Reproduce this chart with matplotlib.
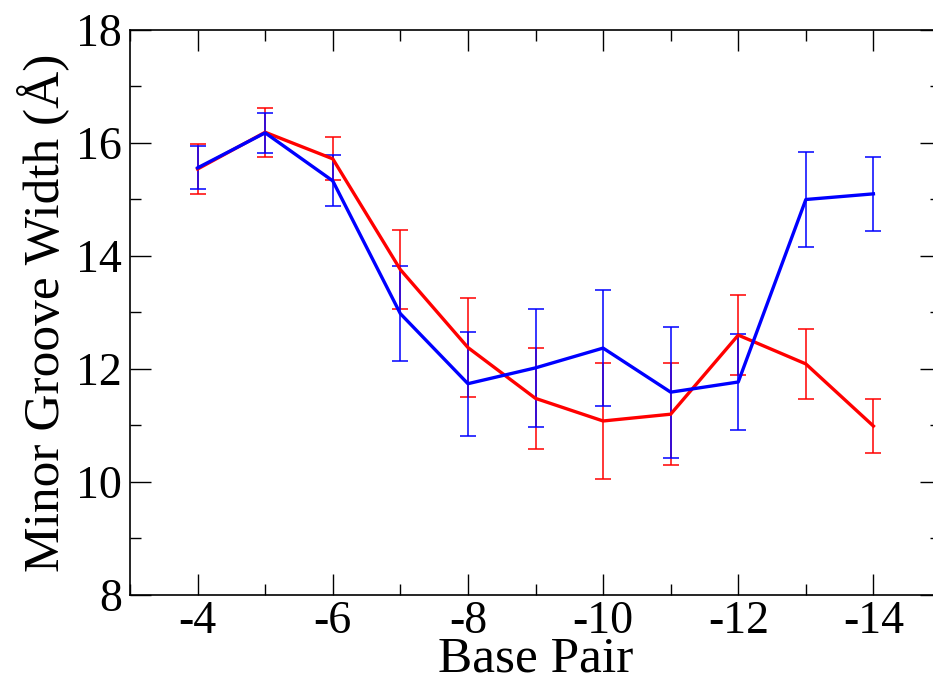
import matplotlib

matplotlib.use("Agg")
import matplotlib.pyplot as plt  # noqa: E402
from matplotlib.ticker import FuncFormatter, MultipleLocator  # noqa: E402

plt.rcParams.update(
    {
        "font.family": ["Liberation Serif", "DejaVu Serif"],
        "xtick.direction": "in", "ytick.direction": "in",
        "xtick.top": True, "ytick.right": True,
        "axes.linewidth": 1.2,
    }
)

# minor groove width per base pair, two systems, mean and std
base_pair = [-4, -5, -6, -7, -8, -9, -10, -11, -12, -13, -14]
red_width = [15.54, 16.19, 15.72, 13.76, 12.38, 11.48, 11.08, 11.20, 12.60, 12.09, 10.99]
red_err = [0.44, 0.43, 0.38, 0.70, 0.88, 0.89, 1.03, 0.90, 0.71, 0.62, 0.48]
blue_width = [15.56, 16.18, 15.33, 12.98, 11.74, 12.02, 12.37, 11.59, 11.77, 15.00, 15.10]
blue_err = [0.38, 0.35, 0.45, 0.84, 0.92, 1.05, 1.03, 1.16, 0.85, 0.84, 0.65]

fig = plt.figure(figsize=(9.33, 6.84), dpi=100)
# right spine sits just past the edge of the canvas
ax = fig.add_axes([130 / 933, 1 - 595 / 684, (941 - 130) / 933, (595 - 30) / 684])

for y, err, color in ((red_width, red_err, "#ff0000"), (blue_width, blue_err, "#0000ff")):
    ax.errorbar(base_pair, y, yerr=err, color=color, lw=2.4, elinewidth=1.1,
                capsize=5.7, capthick=1.1)

ax.set_xlim(-3, -15)
ax.set_ylim(8, 18)
ax.xaxis.set_major_locator(MultipleLocator(2))
ax.xaxis.set_minor_locator(MultipleLocator(1))
ax.yaxis.set_major_locator(MultipleLocator(2))
ax.yaxis.set_minor_locator(MultipleLocator(1))
ax.xaxis.set_major_formatter(FuncFormatter(lambda v, _: f"{int(round(v))}"))
ax.tick_params(which="major", length=15, width=1.0, labelsize=33, pad=6)
ax.tick_params(axis="x", which="major", pad=4)
ax.tick_params(which="minor", length=8, width=1.0)

ax.set_xlabel("Base Pair", fontsize=37, labelpad=-5)
ax.set_ylabel("Minor Groove Width (Å)", fontsize=37, labelpad=4)

fig.savefig("out.png", dpi=100)
